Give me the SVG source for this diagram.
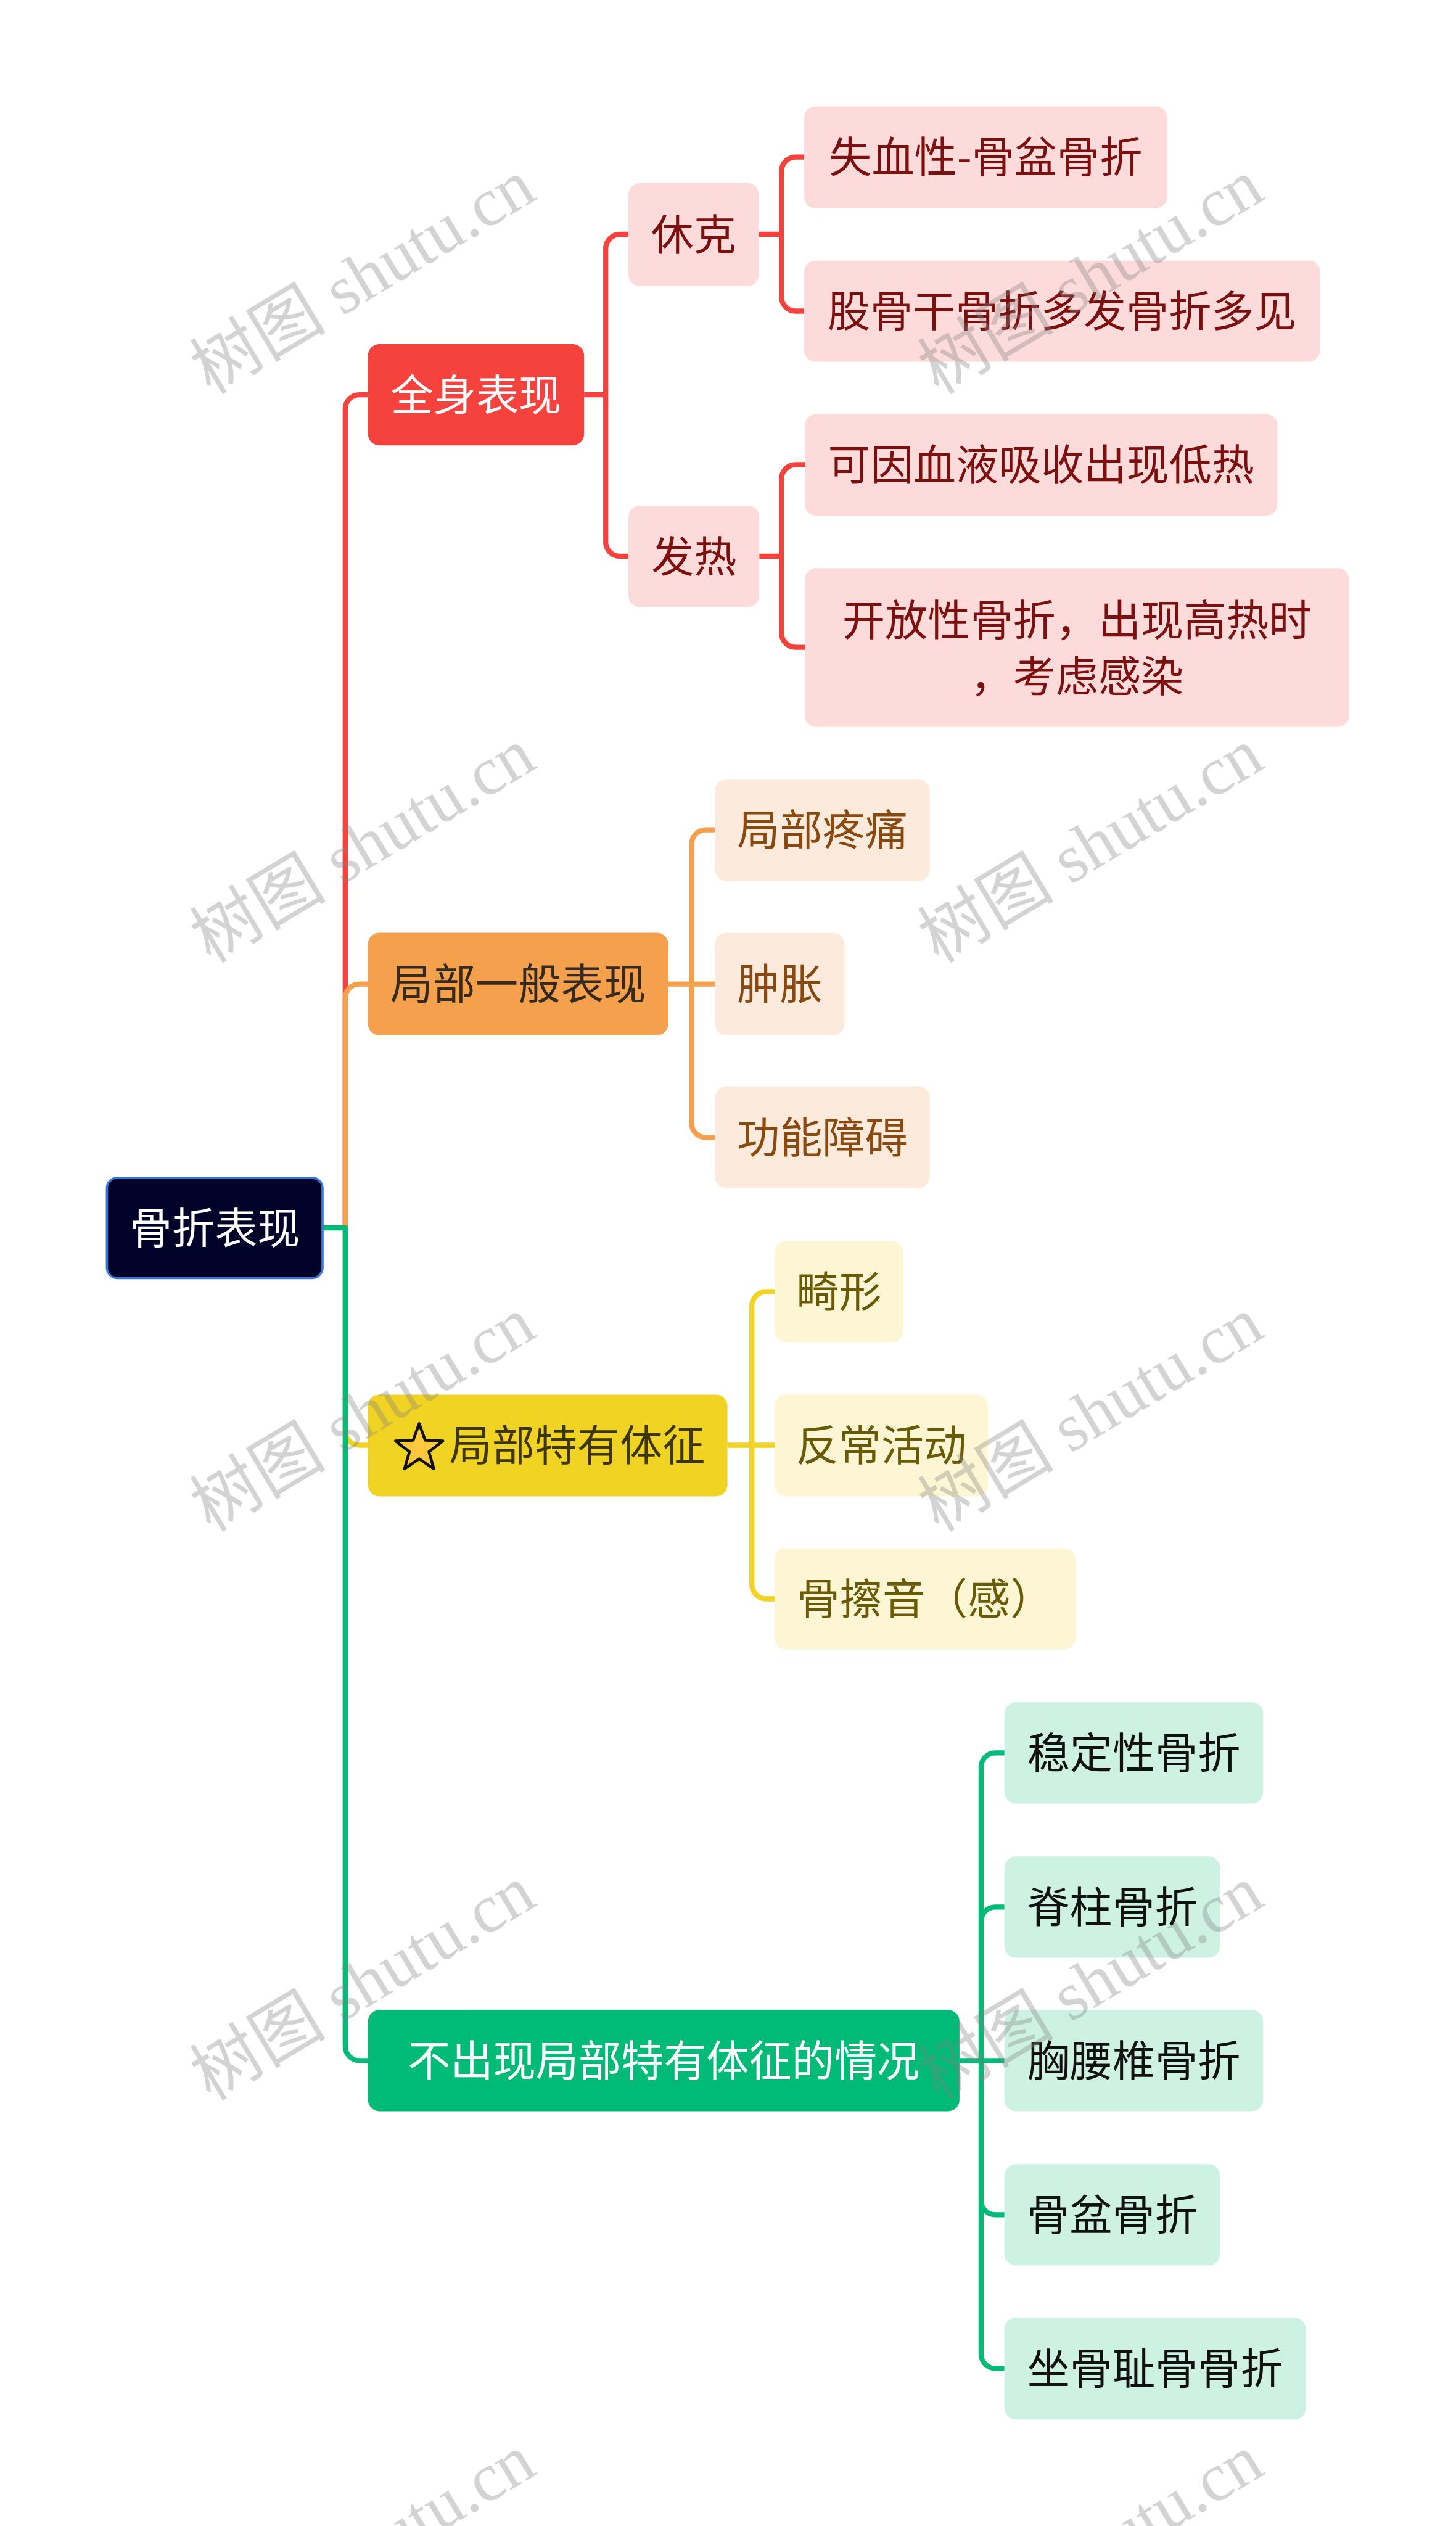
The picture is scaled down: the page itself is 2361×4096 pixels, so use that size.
<svg xmlns="http://www.w3.org/2000/svg" width="2361" height="4096" viewBox="0 0 2361 4096">
<style>
text{font-family:"Noto Sans CJK SC","Noto Sans",sans-serif;font-size:75px;}
.c{text-anchor:middle}
.ln{fill:none;stroke-width:9}
.lr{stroke:#F5423C}.lo{stroke:#F5A04C}.ly{stroke:#F0D323}.lg{stroke:#00BA78}
.root{fill:#000228;stroke:#3877D6;stroke-width:4}
.r1{fill:#F5423C}.r2{fill:#FDDBDA}.tr2{fill:#7D0F0F}
.o1{fill:#F5A04C}.to1{fill:#352A1D}.o2{fill:#FCEBDC}.to2{fill:#8A4A0F}
.y1{fill:#F0D323}.ty1{fill:#3D3600}.y2{fill:#FCF6D5}.ty2{fill:#6A5A06}
.g1{fill:#00BA78}.g2{fill:#CDF1E3}.tg2{fill:#111111}
.w{fill:#ffffff}
.wm{font-family:"Liberation Serif","Noto Sans CJK SC",serif;font-size:120px;fill:#808080;fill-opacity:.35}
</style>
<rect width="2361" height="4096" fill="#ffffff"/>
<g transform="scale(0.92227)">
<g id="connectors">
<path class="ln lr" d="M607 2159V719A25 25 0 0 1 632 694H647"/>
<path class="ln lo" d="M607 2159V1755A25 25 0 0 1 632 1730H647"/>
<path class="ln ly" d="M607 2159V2516A25 25 0 0 0 632 2541H647"/>
<path class="ln lg" d="M607 2159V3598A25 25 0 0 0 632 3623H647"/>
<path class="ln lg" d="M567 2159H611"/>
<path class="ln lr" d="M1027 694H1065M1065 694V437A25 25 0 0 1 1090 412H1105M1065 694V953A25 25 0 0 0 1090 978H1105"/>
<path class="ln lr" d="M1334 412H1374M1374 412V301A25 25 0 0 1 1399 276H1414M1374 412V522A25 25 0 0 0 1399 547H1414"/>
<path class="ln lr" d="M1335 978H1374M1374 978V842A25 25 0 0 1 1399 817H1415M1374 978V1113A25 25 0 0 0 1399 1138H1415"/>
<path class="ln lo" d="M1175 1730H1257M1216 1730V1484A25 25 0 0 1 1241 1459H1257M1216 1730V1975A25 25 0 0 0 1241 2000H1257"/>
<path class="ln ly" d="M1279 2541H1362M1322 2541V2296A25 25 0 0 1 1347 2271H1362M1322 2541V2786A25 25 0 0 0 1347 2811H1362"/>
<path class="ln lg" d="M1687 3623H1766M1725 3623V3107A25 25 0 0 1 1750 3082H1766M1725 3623V3378A25 25 0 0 1 1750 3353H1766M1725 3623V3869A25 25 0 0 0 1750 3894H1766M1725 3623V4139A25 25 0 0 0 1750 4164H1766"/>
</g>
<g id="n-root"><rect class="root" x="188" y="2071" width="379" height="176" rx="18"/><text class="c w" x="377.5" y="2187">骨折表现</text></g>
<g id="n-quanshen"><rect class="r1" x="647" y="605" width="380" height="178" rx="20"/><text class="c w" x="837" y="722">全身表现</text></g>
<g id="n-jubuyiban"><rect class="o1" x="647" y="1640" width="528" height="180" rx="20"/><text class="c to1" x="911" y="1758">局部一般表现</text></g>
<g id="n-jubuteyou"><rect class="y1" x="647" y="2452" width="632" height="179" rx="20"/><polygon points="737,2503 747.6,2532.4 778.8,2533.4 754.1,2552.6 762.9,2582.6 737,2565 711.1,2582.6 719.9,2552.6 695.2,2533.4 726.4,2532.4" fill="#FFC83D" stroke="#111111" stroke-width="5" stroke-linejoin="round"/><text class="ty1" x="790" y="2569">局部特有体征</text></g>
<g id="n-buchuxian"><rect class="g1" x="647" y="3534" width="1040" height="178" rx="20"/><text class="c w" x="1167" y="3651">不出现局部特有体征的情况</text></g>
<g id="n-xiuke"><rect class="r2" x="1105" y="322" width="229" height="181" rx="20"/><text class="c tr2" x="1219.5" y="440">休克</text></g>
<g id="n-fare"><rect class="r2" x="1105" y="889" width="230" height="178" rx="20"/><text class="c tr2" x="1220" y="1006">发热</text></g>
<g id="n-shixue"><rect class="r2" x="1414" y="187" width="638" height="179" rx="20"/><text class="c tr2" x="1733" y="304">失血性-骨盆骨折</text></g>
<g id="n-gugugan"><rect class="r2" x="1414" y="458" width="907" height="178" rx="20"/><text class="c tr2" x="1867.5" y="575">股骨干骨折多发骨折多见</text></g>
<g id="n-keyin"><rect class="r2" x="1415" y="728" width="831" height="179" rx="20"/><text class="c tr2" x="1830.5" y="845">可因血液吸收出现低热</text></g>
<g id="n-kaifang"><rect class="r2" x="1415" y="999" width="957" height="279" rx="20"/><text class="c tr2" x="1893.5" y="1118">开放性骨折，出现高热时</text><text class="c tr2" x="1893.5" y="1217">，考虑感染</text></g>
<g id="n-tengtong"><rect class="o2" x="1257" y="1370" width="378" height="179" rx="20"/><text class="c to2" x="1446" y="1487">局部疼痛</text></g>
<g id="n-zhongzhang"><rect class="o2" x="1257" y="1640" width="228" height="180" rx="20"/><text class="c to2" x="1371" y="1758">肿胀</text></g>
<g id="n-gongneng"><rect class="o2" x="1257" y="1910" width="378" height="179" rx="20"/><text class="c to2" x="1446" y="2028">功能障碍</text></g>
<g id="n-jixing"><rect class="y2" x="1362" y="2182" width="226" height="178" rx="20"/><text class="c ty2" x="1475" y="2299">畸形</text></g>
<g id="n-fanchang"><rect class="y2" x="1362" y="2452" width="375" height="179" rx="20"/><text class="c ty2" x="1549.5" y="2569">反常活动</text></g>
<g id="n-guca"><rect class="y2" x="1362" y="2722" width="529" height="178" rx="20"/><text class="c ty2" x="1626.5" y="2839">骨擦音（感）</text></g>
<g id="n-wending"><rect class="g2" x="1766" y="2993" width="455" height="178" rx="20"/><text class="c tg2" x="1993.5" y="3110">稳定性骨折</text></g>
<g id="n-jizhu"><rect class="g2" x="1766" y="3264" width="379" height="178" rx="20"/><text class="c tg2" x="1955.5" y="3381">脊柱骨折</text></g>
<g id="n-xiongyao"><rect class="g2" x="1766" y="3534" width="455" height="178" rx="20"/><text class="c tg2" x="1993.5" y="3651">胸腰椎骨折</text></g>
<g id="n-gupen"><rect class="g2" x="1766" y="3805" width="379" height="178" rx="20"/><text class="c tg2" x="1955.5" y="3922">骨盆骨折</text></g>
<g id="n-zuogu"><rect class="g2" x="1766" y="4075" width="530" height="179" rx="20"/><text class="c tg2" x="2031" y="4192">坐骨耻骨骨折</text></g>
<g id="watermarks">
<text class="wm" transform="translate(370,695) rotate(-31)">树图 shutu.cn</text>
<text class="wm" transform="translate(1650,695) rotate(-31)">树图 shutu.cn</text>
<text class="wm" transform="translate(370,1695) rotate(-31)">树图 shutu.cn</text>
<text class="wm" transform="translate(1650,1695) rotate(-31)">树图 shutu.cn</text>
<text class="wm" transform="translate(370,2695) rotate(-31)">树图 shutu.cn</text>
<text class="wm" transform="translate(1650,2695) rotate(-31)">树图 shutu.cn</text>
<text class="wm" transform="translate(370,3695) rotate(-31)">树图 shutu.cn</text>
<text class="wm" transform="translate(1650,3695) rotate(-31)">树图 shutu.cn</text>
<text class="wm" transform="translate(370,4695) rotate(-31)">树图 shutu.cn</text>
<text class="wm" transform="translate(1650,4695) rotate(-31)">树图 shutu.cn</text>
</g>
</g>
</svg>
